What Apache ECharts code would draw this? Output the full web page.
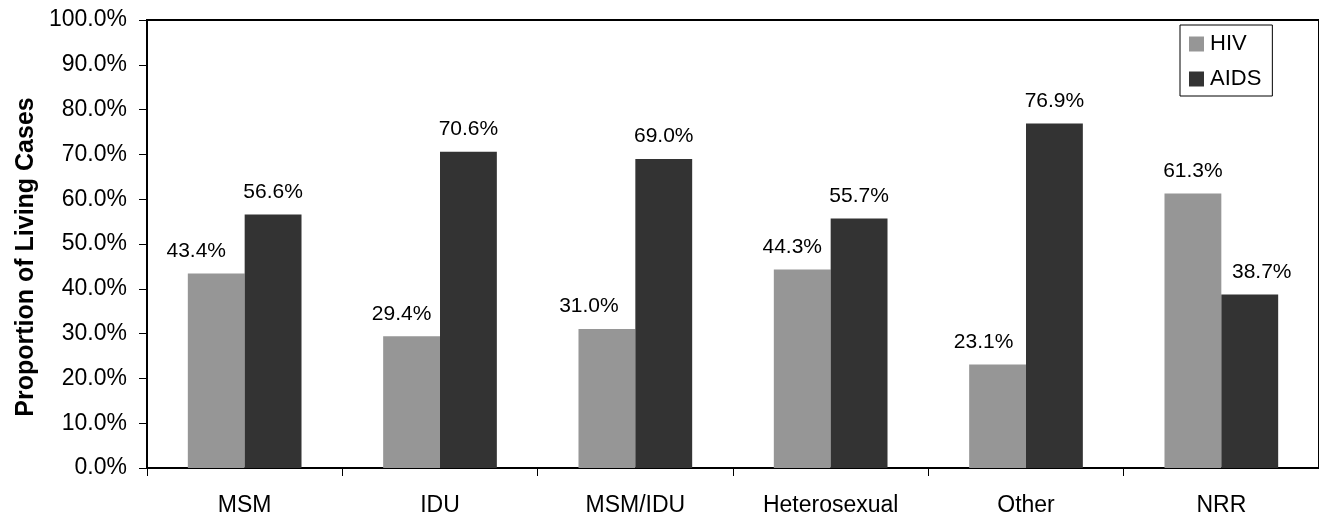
<!DOCTYPE html>
<html>
<head>
<meta charset="utf-8">
<script src="https://cdn.jsdelivr.net/npm/echarts@6/dist/echarts.min.js"></script>
<style>
html,body{margin:0;padding:0;background:#fff;}
#chart{width:1319px;height:517px;}
</style>
</head>
<body>
<div id="chart"></div>
<script>
const categories = ["MSM", "IDU", "MSM/IDU", "Heterosexual", "Other", "NRR"];
const hivValues = [43.4, 29.4, 31.0, 44.3, 23.1, 61.3];
const aidsValues = [56.6, 70.6, 69.0, 55.7, 76.9, 38.7];
const seriesNames = ["HIV", "AIDS"];
const yTitle = "Proportion of Living Cases";

// horizontal nudges of the data labels (as placed in the original to avoid overlaps)
const hivLabelShift = [-20, -10, -18, -10, -14, 0];
const aidsLabelShift = [0, 0, 0, 0, 0, 12];

const FONT = 'Arial, "Liberation Sans", sans-serif';
const chart = echarts.init(document.getElementById('chart'), null, {renderer: 'canvas'});

const labelCfg = {
  show: true,
  position: 'top',
  distance: 12,
  color: '#000',
  fontFamily: FONT,
  fontSize: 21,
  formatter: p => p.value.toFixed(1) + '%'
};

const withShift = (vals, shifts) => vals.map((v, i) => ({
  value: v,
  label: {offset: [shifts[i], 0]}
}));

chart.setOption({
  animation: false,
  backgroundColor: '#fff',
  textStyle: {fontFamily: FONT},
  grid: {
    left: 147, top: 20, right: -4, bottom: 49,
    show: true, borderColor: '#000', borderWidth: 2, backgroundColor: 'transparent'
  },
  legend: {
    orient: 'vertical',
    left: 1180, top: 25,
    padding: [8, 11, 6, 9],
    itemWidth: 15, itemHeight: 15, itemGap: 13,
    icon: 'rect',
    borderColor: '#000', borderWidth: 1,
    backgroundColor: '#fff',
    textStyle: {fontFamily: FONT, fontSize: 22, color: '#000', padding: [0, 0, 0, 1]},
    data: seriesNames
  },
  xAxis: {
    type: 'category',
    data: categories,
    axisLine: {lineStyle: {color: '#000', width: 2}},
    axisTick: {show: true, length: 8, lineStyle: {color: '#000', width: 1}},
    axisLabel: {color: '#000', fontFamily: FONT, fontSize: 23, margin: 26}
  },
  yAxis: {
    type: 'value',
    min: 0, max: 100, interval: 10,
    axisLine: {show: true, lineStyle: {color: '#000', width: 2}},
    axisTick: {show: true, length: 8, lineStyle: {color: '#000', width: 1}},
    splitLine: {show: false},
    axisLabel: {
      color: '#000', fontFamily: FONT, fontSize: 23, margin: 20,
      formatter: v => v.toFixed(1) + '%'
    }
  },
  graphic: [{
    type: 'text',
    x: 26, y: 257,
    rotation: Math.PI / 2,
    style: {
      text: yTitle,
      fontFamily: FONT, fontSize: 25, fontWeight: 'bold',
      fill: '#000', align: 'center', verticalAlign: 'middle'
    }
  }],
  series: [
    {
      name: seriesNames[0], type: 'bar', data: withShift(hivValues, hivLabelShift),
      barGap: '0%', barCategoryGap: '41.8%',
      itemStyle: {color: '#969696'},
      label: labelCfg
    },
    {
      name: seriesNames[1], type: 'bar', data: withShift(aidsValues, aidsLabelShift),
      barGap: '0%', barCategoryGap: '41.8%',
      itemStyle: {color: '#333333'},
      label: labelCfg
    }
  ]
});
</script>
</body>
</html>
